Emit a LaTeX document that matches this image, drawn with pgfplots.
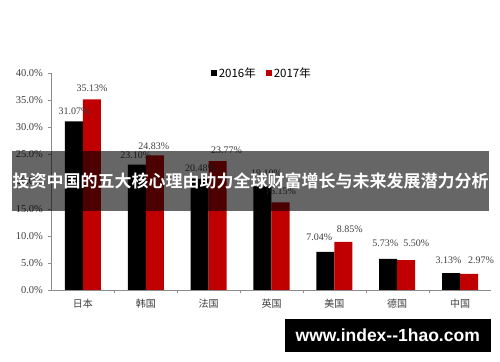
\documentclass[border=0pt]{standalone}
\usepackage{pgfplots}
\usepackage{pgfplotstable}
\pgfplotsset{compat=1.18}
\usepackage{fontspec}
\setmainfont{Liberation Serif}
\newfontfamily\cjk{Noto Sans CJK SC}
\newfontfamily\cjkb{Noto Sans CJK SC Bold}
\newfontfamily\wm{Liberation Sans}
\definecolor{barred}{HTML}{C00000}
\definecolor{txt}{HTML}{404040}
\definecolor{axgray}{HTML}{8C8C8C}
\pgfplotstableread{
x y lx ly
0 31.07 0 10
1 23.10 -1 9
2 20.48 1 11
3 19.10 4 13
4 7.04 -6 15
5 5.73 -3 16
6 3.13 -2.5 13
}\datasixteen
\pgfplotstableread{
x y lx ly
0 35.13 0 11
1 24.83 -1 9
2 23.77 9 11
3 16.15 0 11
4 8.85 6.5 13
5 5.50 10 17
6 2.97 12 14
}\dataseventeen
\begin{document}
\begin{tikzpicture}
\fill[white] (0,0) rectangle (500bp,362bp);
\begin{axis}[
  at={(51.5bp,72bp)}, anchor=south west,
  scale only axis, width=440bp, height=217bp,
  ybar, bar width=18bp,
  xmin=-0.5, xmax=6.5, ymin=0, ymax=40,
  axis x line=bottom, axis y line=left,
  axis line style={-,axgray},
  xtick={0,...,6},
  xticklabels={日本,韩国,法国,英国,美国,德国,中国},
  xticklabel style={font=\cjk\fontsize{10bp}{12bp}\selectfont, text=txt, yshift=-3bp},
  major x tick style={draw=none},
  minor xtick={0.5,1.5,2.5,3.5,4.5,5.5},
  minor tick length=3bp,
  minor x tick style={axgray},
  ytick={0,5,...,40},
  ytick style={axgray},
  major tick length=3bp,
  tick align=outside,
  /pgf/number format/assume math mode=true,
  yticklabel={\pgfmathprintnumber[fixed,fixed zerofill,precision=1]{\tick}\%},
  yticklabel style={font=\fontsize{10.5bp}{12bp}\selectfont, text=txt, xshift=-2bp},
  visualization depends on={\thisrow{lx} \as \lx},
  visualization depends on={\thisrow{ly} \as \ly},
  nodes near coords={\pgfmathprintnumber[fixed,fixed zerofill,precision=2,assume math mode=true]{\pgfplotspointmeta}\%},
  every node near coord/.append style={font=\fontsize{10bp}{12bp}\selectfont, text=txt, anchor=center, inner sep=0pt, xshift=\lx*1bp, yshift=\ly*1bp},
  legend style={at={(0.478,1.0)}, anchor=center, draw=none, fill=none,
    legend columns=2, font=\cjk\fontsize{11.5bp}{13bp}\selectfont,
    /tikz/every even column/.append style={column sep=8bp}},
  legend image code/.code={\fill[#1] (0bp,-3bp) rectangle (6bp,3bp);},
]
\addplot[fill=black, draw=none, bar shift=-9bp] table[x=x,y=y] {\datasixteen};
\addplot[fill=barred, draw=none, bar shift=9bp] table[x=x,y=y] {\dataseventeen};
\legend{2016年,2017年}
\end{axis}
\fill[black, opacity=0.6] (12bp,151bp) rectangle (489bp,211bp);
\node[text=white, font=\cjkb\fontsize{17bp}{20bp}\selectfont, inner sep=0] at (250.5bp,181bp) {投资中国的五大核心理由助力全球财富增长与未来发展潜力分析};
\fill[black] (285bp,9.5bp) rectangle (490.5bp,43bp);
\node[text=white, font=\wm\bfseries\fontsize{17.5bp}{20bp}\selectfont, inner sep=0] at (387.75bp,26.5bp) {www.index--1hao.com};
\end{tikzpicture}
\end{document}
